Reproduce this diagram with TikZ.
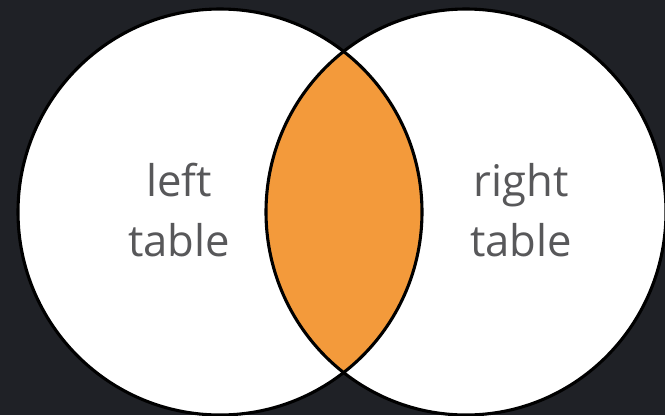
\documentclass[tikz,border=0pt]{standalone}
\usepackage{fontspec}
\setmainfont{Open Sans}
\usepackage{tikz}
\usetikzlibrary{positioning}
\definecolor{bgdark}{HTML}{1F2126}
\definecolor{joinorange}{HTML}{F39A3B}
\definecolor{labelgray}{HTML}{58585A}

\begin{document}
\begin{tikzpicture}[
    x=0.025cm, y=-0.025cm,
    setline/.style={draw=black, line width=2.2pt},
    label/.style={text=labelgray, align=center, font=\fontsize{31}{43}\selectfont, inner sep=0pt}
]
\useasboundingbox (0,0) rectangle (665,415);
\clip (0,0) rectangle (665,415);
\fill[bgdark] (0,0) rectangle (665,415);

% the two tables
\fill[white] (220,212) ellipse [x radius=202, y radius=203];
\fill[white] (466,212) ellipse [x radius=200, y radius=203];

% the overlap
\begin{scope}
  \clip (220,212) ellipse [x radius=202, y radius=203];
  \fill[joinorange] (466,212) ellipse [x radius=200, y radius=203];
\end{scope}

\draw[setline] (220,212) ellipse [x radius=202, y radius=203];
\draw[setline] (466,212) ellipse [x radius=200, y radius=203];

% labels
\node[label] (lefttab) at (179,210) {left\\table};
\node[label] (righttab) at (521,210) {right\\table};
\end{tikzpicture}
\end{document}
